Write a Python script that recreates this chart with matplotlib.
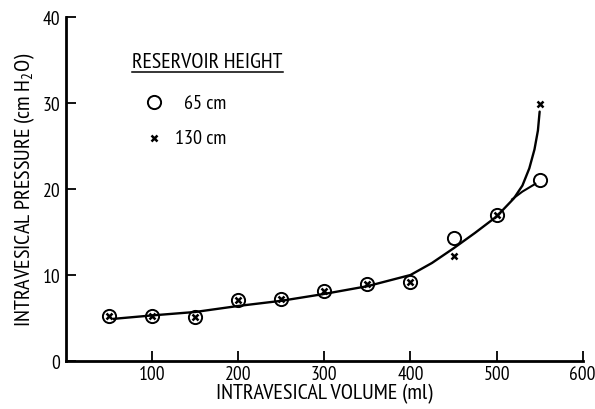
import matplotlib
matplotlib.use("Agg")
import matplotlib.pyplot as plt
from matplotlib.ticker import FixedLocator

# ---- data ----
volume = [50, 100, 150, 200, 250, 300, 350, 400, 450, 500, 550]
p_65 = [5.2, 5.2, 5.1, 7.1, 7.2, 8.1, 8.9, 9.2, 14.3, 17.0, 21.0]
p_130 = [5.2, 5.2, 5.1, 7.1, 7.2, 8.1, 8.9, 9.2, 12.2, 17.0, 29.9]

fit_x = [55, 100, 150, 200, 250, 300, 350, 400, 425, 450, 475, 500, 520, 530, 538, 544, 548, 550]
fit_y = [4.9, 5.3, 5.7, 6.4, 7.0, 7.8, 8.7, 10.0, 11.4, 13.1, 14.9, 16.8, 18.9, 20.4, 22.4, 24.6, 26.8, 29.0]
branch_x = [518, 530, 545]
branch_y = [18.8, 19.7, 20.6]

xticks = [100, 200, 300, 400, 500, 600]
yticks = [0, 10, 20, 30, 40]

FONT = ['PT Sans Narrow', 'DejaVu Sans']
plt.rcParams['font.family'] = FONT
plt.rcParams['mathtext.fontset'] = 'custom'
plt.rcParams['mathtext.rm'] = 'PT Sans Narrow'
plt.rcParams['mathtext.it'] = 'PT Sans Narrow'

fig = plt.figure(figsize=(5.95, 4.10), dpi=100)
ax = fig.add_axes([66/595, 1-362/410, (582.7-66)/595, (362-18)/410])
ax.set_xlim(0, 600)
ax.set_ylim(0, 40)

ax.plot(fit_x, fit_y, color='black', lw=1.7, solid_capstyle='round')
ax.plot(branch_x, branch_y, color='black', lw=1.5)
ax.plot(volume, p_65, linestyle='none', marker='o', markersize=9.5,
        markerfacecolor='none', markeredgecolor='black', markeredgewidth=1.4)
ax.plot(volume, p_130, linestyle='none', marker='x', markersize=5,
        markeredgecolor='black', markeredgewidth=1.8)

for s in ['top', 'right']:
    ax.spines[s].set_visible(False)
for s in ['left', 'bottom']:
    ax.spines[s].set_linewidth(2.0)

ax.xaxis.set_major_locator(FixedLocator(xticks))
ax.yaxis.set_major_locator(FixedLocator(yticks))
ax.tick_params(axis='both', direction='in', length=7, width=1.3, labelsize=14, colors='black')
ax.tick_params(axis='x', pad=3)
ax.tick_params(axis='y', pad=4)

ax.set_xlabel('INTRAVESICAL VOLUME (ml)', fontsize=16, labelpad=0)
ax.set_ylabel(r'INTRAVESICAL PRESSURE (cm H$_2$O)', fontsize=16, labelpad=4)

# legend-like annotations
ax.text(76.6, 34.2, 'RESERVOIR HEIGHT', fontsize=15.8, ha='left', va='baseline')
ax.plot([76.6, 252], [33.65, 33.65], color='black', lw=1.1)
ax.plot([102], [30.1], linestyle='none', marker='o', markersize=9.5,
        markerfacecolor='none', markeredgecolor='black', markeredgewidth=1.4)
ax.text(186, 30.0, '65 cm', fontsize=14.5, ha='right', va='center')
ax.plot([102], [25.9], linestyle='none', marker='x', markersize=5,
        markeredgecolor='black', markeredgewidth=1.8)
ax.text(186, 25.9, '130 cm', fontsize=14.5, ha='right', va='center')

fig.savefig('out.png', dpi=100)
